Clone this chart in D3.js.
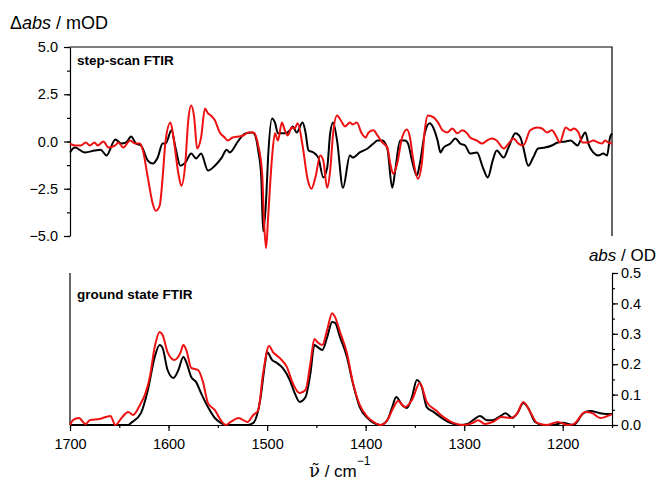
<!DOCTYPE html>
<html>
<head>
<meta charset="utf-8">
<script src="https://cdn.jsdelivr.net/npm/d3@7"></script>
<style>
  body { margin: 0; background: #fff; }
  svg { font-family: "Liberation Sans", Arial, sans-serif; }
</style>
</head>
<body>
<svg id="chart" width="656" height="484"></svg>
<script>
// [wavenumber cm-1, delta abs mOD] - step-scan FTIR
const stepBlack = [
  [1700,-0.58],[1695,-0.32],[1685,-0.58],[1675,-0.48],[1669,-0.43],[1663,-0.74],[1654,0.11],
  [1648,-0.11],[1643,-0.05],[1638,0.27],[1633,-0.11],[1628,-0.21],[1621,-1.01],[1616,-1.17],
  [1611,-0.85],[1606,-0.11],[1603,-0.11],[1597,0.59],[1593,-0.32],[1588,-1.28],[1583,-1.12],
  [1577,-0.64],[1572,-0.9],[1567,-0.64],[1560,-1.54],[1553,-1.28],[1546,-0.85],[1541,-0.43],
  [1538,-0.58],[1529,0.05],[1522,0.43],[1515,0.48],[1512,0.32],[1509,-0.48],[1506,-1.8],
  [1504,-4.75],[1501,-3.1],[1499,-0.85],[1495,1.22],[1492,1.0],[1489,0.43],[1482,0.43],
  [1477,0.58],[1474,0.8],[1470,0.48],[1464,1.0],[1461,0.48],[1458,-0.48],[1453,-0.58],
  [1448,-0.85],[1443,-1.9],[1439,-1.38],[1436,0.43],[1433,1.0],[1429,0.05],[1423,-2.45],
  [1416,-0.74],[1413,-0.85],[1406,-0.58],[1398,-0.37],[1392,-0.11],[1388,0.05],[1383,0.05],
  [1378,-0.37],[1373,-2.45],[1370,-1.54],[1365,0.05],[1360,0.05],[1357,-0.11],[1353,-1.0],
  [1348,-1.8],[1345,-1.17],[1340,0.43],[1335,0.96],[1331,0.69],[1327,0.05],[1324,-0.58],
  [1321,-0.32],[1314,-0.11],[1309,0.16],[1304,-0.11],[1299,-0.21],[1294,-0.64],[1287,-0.58],
  [1281,-1.38],[1276,-1.9],[1271,-1.0],[1267,-0.48],[1260,-0.85],[1255,-0.32],[1248,0.43],
  [1243,0.21],[1240,-0.32],[1235,-1.28],[1230,-0.85],[1225,-0.37],[1218,-0.32],[1211,-0.21],
  [1205,-0.05],[1197,0],[1192,0.05],[1185,-0.21],[1182,0.05],[1177,0.48],[1174,-0.11],
  [1169,-0.58],[1164,-0.74],[1159,-0.64],[1155,-0.74],[1152,0.21],[1150,0.43]
];
const stepRed = [
  [1700,-0.11],[1695,-0.21],[1689,-0.21],[1684,-0.05],[1680,-0.21],[1675,-0.05],[1672,-0.21],
  [1666,0],[1661,-0.32],[1654,-0.21],[1651,-0.05],[1646,-0.32],[1639,0.05],[1634,-0.11],
  [1629,-0.11],[1626,-0.48],[1621,-1.91],[1616,-3.3],[1613,-3.67],[1609,-3.4],[1606,-1.91],
  [1603,0.05],[1598,1.0],[1595,0.21],[1590,-1.7],[1587,-2.34],[1583,-1.17],[1580,1.12],
  [1577,1.91],[1574,1.28],[1571,-0.37],[1567,0.21],[1563,1.75],[1560,1.49],[1557,1.38],
  [1553,1.12],[1548,0.48],[1543,0.21],[1540,0.05],[1535,0.21],[1529,0.27],[1524,0.32],
  [1519,0.48],[1514,0.48],[1509,-0.21],[1505,-1.7],[1503,-4.36],[1501,-5.64],[1499,-4.04],
  [1495,-0.85],[1492,0.43],[1489,0.05],[1485,1.0],[1482,0.59],[1479,0.32],[1475,0.74],
  [1472,0.69],[1469,0.96],[1464,-0.21],[1459,-1.97],[1455,-2.5],[1451,-1.91],[1446,-0.74],
  [1443,-1.01],[1439,-2.45],[1436,-1.54],[1433,0.43],[1429,1.38],[1425,1.1],[1421,0.8],
  [1416,1.0],[1413,0.9],[1409,1.0],[1404,0.43],[1400,0.21],[1397,0.48],[1392,0.59],
  [1388,0.32],[1383,-0.05],[1378,-0.32],[1375,-1.17],[1372,-1.7],[1368,-1.17],[1363,0.21],
  [1358,0.64],[1355,0.21],[1352,-0.85],[1347,-1.97],[1343,-1.17],[1340,0.59],[1337,1.38],
  [1331,1.28],[1326,0.96],[1322,0.59],[1317,0.48],[1312,0.69],[1307,0.43],[1302,0.59],
  [1297,0.43],[1294,0.21],[1287,0.05],[1282,-0.11],[1277,0.05],[1272,0.16],[1267,0.05],
  [1260,-0.37],[1255,-0.11],[1250,0.16],[1245,-0.11],[1240,-0.21],[1233,0.59],[1226,0.74],
  [1221,0.69],[1216,0.48],[1211,0.59],[1206,0.21],[1203,-0.05],[1197,0.74],[1192,0.59],
  [1189,0.69],[1184,0.48],[1180,-0.05],[1174,-0.05],[1169,0.05],[1164,-0.05],[1160,-0.11],
  [1157,0.05],[1154,-0.05],[1150,-0.11]
];
// [wavenumber cm-1, abs OD] - ground state FTIR
const groundBlack = [
  [1700,0],[1641,0],[1638,0.007],[1628,0.039],[1621,0.115],[1614,0.224],[1609,0.263],
  [1606,0.253],[1601,0.181],[1595,0.155],[1590,0.181],[1585,0.224],[1582,0.207],[1577,0.158],
  [1572,0.141],[1567,0.105],[1560,0.059],[1553,0.023],[1547,0.007],[1542,0],[1520,0],
  [1514,0.007],[1507,0.082],[1502,0.204],[1500,0.24],[1495,0.214],[1490,0.204],[1484,0.187],
  [1477,0.148],[1472,0.105],[1467,0.076],[1461,0.092],[1456,0.171],[1452,0.263],[1449,0.257],
  [1444,0.247],[1439,0.289],[1434,0.339],[1431,0.336],[1426,0.289],[1419,0.224],[1413,0.138],
  [1406,0.059],[1398,0.023],[1392,0.007],[1385,0],[1378,0.016],[1373,0.059],[1369,0.092],
  [1363,0.066],[1358,0.056],[1353,0.092],[1348,0.148],[1343,0.125],[1338,0.059],[1331,0.043],
  [1324,0.026],[1314,0.007],[1304,0],[1297,0.003],[1291,0.016],[1284,0.03],[1277,0.016],
  [1271,0.016],[1263,0.03],[1258,0.039],[1251,0.023],[1246,0.039],[1240,0.072],[1235,0.056],
  [1228,0.01],[1220,0],[1210,0],[1200,0.007],[1189,0],[1179,0.039],[1172,0.046],[1162,0.039],
  [1152,0.036],[1150,0.036]
];
const groundRed = [
  [1700,0],[1697,0.016],[1691,0.023],[1684,0.003],[1680,0.016],[1670,0.02],[1659,0.03],
  [1654,0],[1647,0.026],[1641,0.043],[1636,0.033],[1629,0.066],[1624,0.099],[1619,0.158],
  [1614,0.257],[1609,0.306],[1606,0.296],[1601,0.24],[1594,0.214],[1588,0.237],[1585,0.263],
  [1582,0.247],[1577,0.188],[1570,0.181],[1565,0.141],[1560,0.072],[1553,0.049],[1547,0.016],
  [1542,0],[1537,0.01],[1529,0.023],[1520,0.01],[1514,0.033],[1509,0.049],[1504,0.171],
  [1498,0.26],[1494,0.24],[1487,0.22],[1480,0.191],[1474,0.138],[1467,0.105],[1461,0.115],
  [1456,0.204],[1452,0.283],[1449,0.273],[1444,0.263],[1439,0.313],[1434,0.368],[1431,0.355],
  [1426,0.306],[1419,0.237],[1413,0.141],[1406,0.066],[1398,0.026],[1392,0.01],[1385,0],
  [1378,0.016],[1372,0.056],[1367,0.079],[1360,0.059],[1353,0.082],[1345,0.138],[1338,0.076],
  [1329,0.049],[1321,0.026],[1311,0.007],[1301,0],[1291,0.007],[1286,0.016],[1279,0.003],
  [1271,0.01],[1262,0.026],[1253,0.023],[1246,0.039],[1240,0.076],[1233,0.043],[1226,0.007],
  [1216,0],[1205,0.01],[1195,0],[1189,0.003],[1177,0.043],[1170,0.039],[1162,0.023],
  [1152,0.033],[1150,0.036]
];
const stepTicks = [-5, -2.5, 0, 2.5, 5];
const groundTicks = [0, 0.1, 0.2, 0.3, 0.4, 0.5];
const xTicks = [1700, 1600, 1500, 1400, 1300, 1200];

const svg = d3.select("#chart");
const left = 70, right = 612;
const topY0 = 47, topY1 = 236;
const botY0 = 273, botY1 = 425;
const tickFont = 14.5;

const x = d3.scaleLinear().domain([1700, 1150]).range([left, right]);
const yTop = d3.scaleLinear().domain([-5, 5]).range([topY1, topY0]);
const yBot = d3.scaleLinear().domain([0, 0.5]).range([botY1, botY0]);

const fmt = d3.format(".1f");
const styleText = g => g.selectAll("text")
    .attr("font-size", tickFont).attr("fill", "#000")
    .attr("font-family", "Liberation Sans, Arial, sans-serif");

// top panel: left axis, frame on top and right
svg.append("g")
    .attr("transform", `translate(${left},0)`)
    .call(d3.axisLeft(yTop).tickValues(d3.range(-5, 5.01, 1.25)).tickSize(3).tickFormat(""))
    .call(g => g.select(".domain").remove());
svg.append("g")
    .attr("transform", `translate(${left},0)`)
    .call(d3.axisLeft(yTop).tickValues(stepTicks).tickSize(6).tickSizeOuter(0).tickPadding(6).tickFormat(fmt))
    .call(styleText);
svg.append("path")
    .attr("d", `M${left},${topY0}H${right}V${topY1}`)
    .attr("fill", "none").attr("stroke", "#000").attr("stroke-width", 1.2);

// bottom panel
svg.append("line")
    .attr("x1", left).attr("x2", left).attr("y1", botY0).attr("y2", botY1)
    .attr("stroke", "#000").attr("stroke-width", 1.2);
svg.append("g")
    .attr("transform", `translate(0,${botY1})`)
    .call(d3.axisBottom(x).tickValues(d3.range(1700, 1149, -50)).tickSize(3).tickFormat(""))
    .call(g => g.select(".domain").remove());
svg.append("g")
    .attr("transform", `translate(0,${botY1})`)
    .call(d3.axisBottom(x).tickValues(xTicks).tickSize(6).tickSizeOuter(0).tickPadding(8).tickFormat(d3.format("d")))
    .call(styleText);
svg.append("g")
    .attr("transform", `translate(${right},0)`)
    .call(d3.axisRight(yBot).tickValues(d3.range(0, 0.501, 0.05)).tickSize(3).tickFormat(""))
    .call(g => g.select(".domain").remove());
svg.append("g")
    .attr("transform", `translate(${right},0)`)
    .call(d3.axisRight(yBot).tickValues(groundTicks).tickSize(6).tickSizeOuter(0).tickPadding(3).tickFormat(fmt))
    .call(styleText);

svg.selectAll(".domain, .tick line").attr("stroke", "#000").attr("stroke-width", 1.2);

// curves
const lineTop = d3.line().x(d => x(d[0])).y(d => yTop(d[1])).curve(d3.curveMonotoneX);
const lineBot = d3.line().x(d => x(d[0])).y(d => yBot(d[1])).curve(d3.curveMonotoneX);

svg.append("path").datum(stepBlack).attr("d", lineTop)
    .attr("fill", "none").attr("stroke", "#000").attr("stroke-width", 2);
svg.append("path").datum(stepRed).attr("d", lineTop)
    .attr("fill", "none").attr("stroke", "#ee1111").attr("stroke-width", 2);
svg.append("path").datum(groundBlack).attr("d", lineBot)
    .attr("fill", "none").attr("stroke", "#000").attr("stroke-width", 2);
svg.append("path").datum(groundRed).attr("d", lineBot)
    .attr("fill", "none").attr("stroke", "#ee1111").attr("stroke-width", 2);

// labels
svg.append("text").attr("x", 77).attr("y", 65)
    .attr("font-size", 13.5).attr("font-weight", "bold").text("step-scan FTIR");
svg.append("text").attr("x", 77).attr("y", 299)
    .attr("font-size", 13.5).attr("font-weight", "bold").text("ground state FTIR");

const yl = svg.append("text").attr("x", 10).attr("y", 29).attr("font-size", 18);
yl.append("tspan").text("Δ");
yl.append("tspan").attr("font-style", "italic").text("abs");
yl.append("tspan").text(" / mOD");

const yr = svg.append("text").attr("x", 656).attr("y", 261).attr("font-size", 17).attr("text-anchor", "end");
yr.append("tspan").attr("font-style", "italic").text("abs");
yr.append("tspan").text(" / OD");

// x title
const xl = svg.append("text").attr("x", 309).attr("y", 477).attr("font-size", 17);
xl.append("tspan").attr("font-family", "DejaVu Serif, serif").attr("font-size", 18).text("ν\u0303");
xl.append("tspan").text(" / cm");
xl.append("tspan").attr("dy", -12).attr("font-size", 12).text("\u22121");
</script>
</body>
</html>
